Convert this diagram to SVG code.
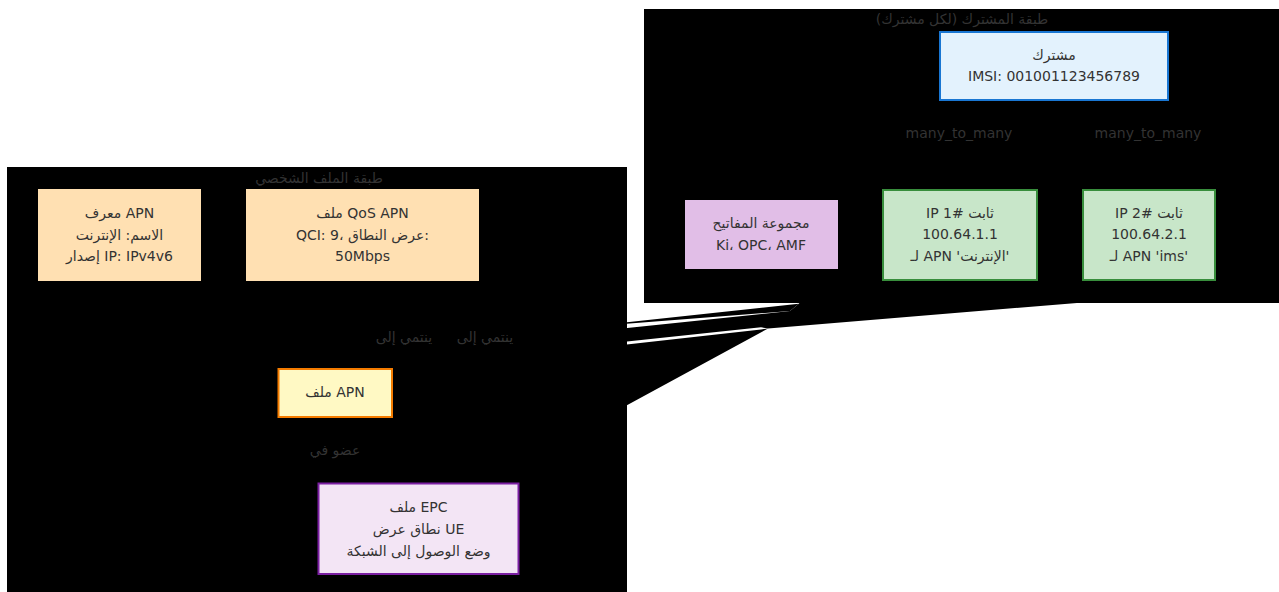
<svg xmlns="http://www.w3.org/2000/svg" width="1279" height="592" viewBox="0 0 1279 592">
<style>
text{font-family:"DejaVu Sans","Noto Sans",sans-serif;font-size:14px;fill:#333;text-anchor:middle;dominant-baseline:central}
.cluster{fill:#000;stroke:none}
.edge{fill:#000;stroke:none}
</style>
<rect width="1279" height="592" fill="#fff"/>
<g id="cluster-profile">
<rect class="cluster" x="7" y="167" width="620" height="425"/>
<text x="319" y="178">طبقة الملف الشخصي</text>
</g>
<g id="cluster-subscriber">
<rect class="cluster" x="644" y="9" width="635" height="294"/>
<text x="962" y="19">طبقة المشترك (لكل مشترك)</text>
</g>
<g id="connectors">
<polygon class="edge" points="620,323 803.3,303.3 803.3,300 790,311 620,324.2"/>
<polygon class="edge" points="620,328.8 790,311 803.3,300 1080,300 1080,302.7 768,328.5 761,327.2 620,342.3"/>
<polygon class="edge" points="620,345.3 761,329.4 768,328.5 620,409"/>
<text x="959" y="133">many_to_many</text>
<text x="1148" y="133">many_to_many</text>
<text x="404" y="337">ينتمي إلى</text>
<text x="485" y="337">ينتمي إلى</text>
<text x="335" y="450">عضو في</text>
</g>
<g id="node-subscriber">
<rect x="940" y="32" width="228" height="68" fill="#e3f2fd" stroke="#1976d2" stroke-width="2"/>
<text x="1054" y="55">مشترك</text>
<text x="1054" y="76">IMSI: 001001123456789</text>
</g>
<g id="node-keyset">
<rect x="685" y="200" width="153" height="69" fill="#e1bee7"/>
<text x="761" y="223">مجموعة المفاتيح</text>
<text x="761" y="245">Ki، OPC، AMF</text>
</g>
<g id="node-ip1">
<rect x="883" y="190" width="154" height="90" fill="#c8e6c9" stroke="#388e3c" stroke-width="2"/>
<text x="960" y="213">IP ثابت #1</text>
<text x="960" y="234">100.64.1.1</text>
<text x="960" y="256">لـ APN 'الإنترنت'</text>
</g>
<g id="node-ip2">
<rect x="1083" y="190" width="132" height="90" fill="#c8e6c9" stroke="#388e3c" stroke-width="2"/>
<text x="1149" y="213">IP ثابت #2</text>
<text x="1149" y="234">100.64.2.1</text>
<text x="1149" y="256">لـ APN 'ims'</text>
</g>
<g id="node-apnid">
<rect x="38" y="189" width="163" height="92" fill="#ffe0b2"/>
<text x="119.5" y="213">معرف APN</text>
<text x="119.5" y="235">الاسم: الإنترنت</text>
<text x="119.5" y="256">إصدار IP: IPv4v6</text>
</g>
<g id="node-qos">
<rect x="246" y="189" width="233" height="92" fill="#ffe0b2"/>
<text x="362.5" y="213">ملف QoS APN</text>
<text x="362.5" y="235">QCI: 9، عرض النطاق:</text>
<text x="362.5" y="256">50Mbps</text>
</g>
<g id="node-apnprofile">
<rect x="278.5" y="369" width="113.5" height="48" fill="#fff9c4" stroke="#f57c00" stroke-width="2"/>
<text x="335" y="392">ملف APN</text>
</g>
<g id="node-epc">
<rect x="318.5" y="483.5" width="200" height="90.5" fill="#f3e5f5" stroke="#7b1fa2" stroke-width="2"/>
<text x="418.5" y="507">ملف EPC</text>
<text x="418.5" y="529">نطاق عرض UE</text>
<text x="418.5" y="551">وضع الوصول إلى الشبكة</text>
</g>
</svg>
